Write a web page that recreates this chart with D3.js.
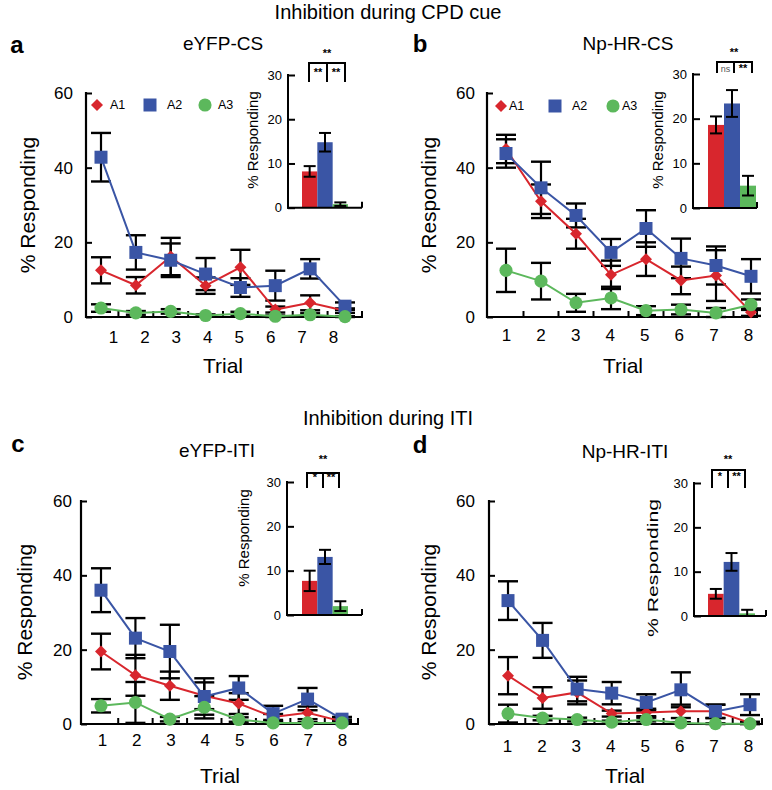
<!DOCTYPE html>
<html><head><meta charset="utf-8">
<script src="https://cdn.jsdelivr.net/npm/d3@7"></script>
<style>body{margin:0;background:#fff}svg{display:block}</style>
</head><body><svg id="c" width="772" height="790"></svg>
<script>
// ---------------- DATA ----------------
const trials = [1, 2, 3, 4, 5, 6, 7, 8];
const seriesNames = ["A1", "A2", "A3"];
const yTicksMain = [0, 20, 40, 60];
const yTicksInset = [0, 10, 20, 30];
const sectionTitles = ["Inhibition during CPD cue", "Inhibition during ITI"];
const panelTitles = ["eYFP-CS", "Np-HR-CS", "eYFP-ITI", "Np-HR-ITI"];
const panelLetters = ["a", "b", "c", "d"];

// panel a: eYFP-CS
const aA1 = [12.5, 8.5, 16.2, 8.4, 13.3, 2.0, 3.8, 1.7];
const aA1Err = [3.5, 2.2, 5.0, 2.2, 4.7, 0.8, 2.0, 0.6];
const aA2 = [42.8, 17.3, 15.2, 11.5, 7.9, 8.4, 12.9, 2.9];
const aA2Err = [6.5, 4.6, 4.5, 4.3, 2.5, 4.0, 2.6, 1.0];
const aA3 = [2.4, 1.1, 1.5, 0.4, 0.9, 0.2, 0.6, 0.1];
const aA3Err = [1.0, 0.5, 0.6, 0.3, 0.5, 0.2, 0.4, 0.1];
const aBar = [8.2, 14.8, 0.8];
const aBarErr = [1.2, 2.1, 0.4];
const aSig = ["**", "**", "**"];

// panel b: Np-HR-CS
const bA1 = [45.0, 31.0, 22.3, 11.3, 15.5, 9.8, 11.1, 1.3];
const bA1Err = [3.8, 4.5, 4.0, 3.8, 4.5, 3.7, 6.8, 1.0];
const bA2 = [43.8, 34.6, 27.2, 17.3, 23.7, 15.7, 13.8, 10.9];
const bA2Err = [3.8, 7.0, 3.2, 3.6, 4.9, 5.3, 5.1, 4.6];
const bA3 = [12.5, 9.6, 3.8, 5.1, 1.7, 2.0, 1.1, 3.3];
const bA3Err = [5.8, 4.9, 2.4, 3.0, 1.2, 1.3, 1.3, 1.4];
const bBar = [18.6, 23.4, 5.0];
const bBarErr = [1.9, 3.0, 2.2];
const bSig = ["**", "ns", "**"];

// panel c: eYFP-ITI
const cA1 = [19.5, 13.1, 10.3, 7.6, 5.5, 1.9, 3.0, 0.7];
const cA1Err = [4.8, 5.5, 3.8, 3.6, 2.8, 0.8, 1.7, 0.5];
const cA2 = [36.0, 23.1, 19.5, 7.4, 9.7, 2.8, 6.7, 1.3];
const cA2Err = [5.9, 5.4, 7.2, 4.9, 3.2, 2.1, 3.0, 0.6];
const cA3 = [4.9, 5.8, 1.3, 4.5, 1.2, 0.3, 0.3, 0.3];
const cA3Err = [1.8, 5.5, 0.6, 3.0, 0.6, 0.2, 0.2, 0.2];
const cBar = [7.7, 13.1, 2.0];
const cBarErr = [2.3, 1.6, 1.1];
const cSig = ["**", "*", "**"];

// panel d: Np-HR-ITI
const dA1 = [13.0, 7.0, 8.5, 2.8, 3.1, 3.4, 3.4, 0.3];
const dA1Err = [5.0, 2.9, 3.2, 0.8, 1.0, 1.8, 1.8, 0.3];
const dA2 = [33.2, 22.5, 9.4, 8.3, 5.8, 9.2, 3.4, 5.2];
const dA2Err = [5.2, 4.7, 3.3, 3.0, 2.2, 4.7, 1.8, 2.8];
const dA3 = [2.8, 1.6, 1.2, 0.5, 1.2, 0.3, 0.1, 0.1];
const dA3Err = [2.4, 0.6, 0.5, 0.4, 0.5, 0.2, 0.1, 0.1];
const dBar = [5.0, 12.2, 0.6];
const dBarErr = [1.1, 2.0, 0.8];
const dSig = ["**", "*", "**"];

// ---------------- STYLE / LAYOUT ----------------
const FONT = '"Liberation Sans", Arial, Helvetica, sans-serif';
const colors = ["#d8262d", "#3a55a5", "#5cb85c"];
const svg = d3.select("#c");

const layouts = [
  { letterXY: [17, 53], titleXY: [223, 50], axX: 86, y0: 317, yTop: 93, xEnd: 362, m: [101, 345], l: [113, 333], labPad: 14, yPad: 13,
    ylab: [27, 205], trial: [223, 373], inAx: 288, iy0: 207.7, iyTop: 75, iEnd: 362, b: [302, 348], ilab: [252, 140], ilabLen: null,
    br: { top: 63, bot: 82, xs: [309, 327, 345], topY: 57, inY: 76 }, legend: { y: 105, mx: [97, 150, 205], tx: [110, 167, 218] } },
  { letterXY: [420, 52], titleXY: [628, 50], axX: 487, y0: 317, yTop: 93, xEnd: 757, m: [506, 751], l: [506, 748], labPad: 12, yPad: 12,
    ylab: [428, 205], trial: [623, 373], inAx: 693, iy0: 208, iyTop: 74, iEnd: 757, b: [708, 756], ilab: [657, 140], ilabLen: null,
    br: { top: 62, bot: 73, xs: [717, 734, 752], topY: 56, inY: 72 }, legend: { y: 106, mx: [501, 555, 613], tx: [509, 572, 622] } },
  { letterXY: [18, 452], titleXY: [217, 457], axX: 81, y0: 724, yTop: 501, xEnd: 358, m: [101, 342], l: [102, 342], labPad: 10, yPad: 9,
    ylab: [24, 612], trial: [220, 783], inAx: 287, iy0: 615, iyTop: 482, iEnd: 362, b: [302, 348], ilab: [243, 538], ilabLen: null,
    br: { top: 473, bot: 488, xs: [307, 323, 339], topY: 463, inY: 481 }, legend: null },
  { letterXY: [420, 453], titleXY: [625, 458], axX: 489, y0: 724, yTop: 501, xEnd: 762, m: [508, 750], l: [507, 748], labPad: 16, yPad: 14,
    ylab: [428, 612], trial: [625, 783], inAx: 694, iy0: 616, iyTop: 483, iEnd: 766, b: [708, 755], ilab: [652, 568], ilabLen: 138,
    br: { top: 470, bot: 488, xs: [712, 728, 745], topY: 463, inY: 480 }, legend: null }
];

const panels = [
  { means: [aA1, aA2, aA3], errs: [aA1Err, aA2Err, aA3Err], bar: aBar, barErr: aBarErr, sig: aSig },
  { means: [bA1, bA2, bA3], errs: [bA1Err, bA2Err, bA3Err], bar: bBar, barErr: bBarErr, sig: bSig },
  { means: [cA1, cA2, cA3], errs: [cA1Err, cA2Err, cA3Err], bar: cBar, barErr: cBarErr, sig: cSig },
  { means: [dA1, dA2, dA3], errs: [dA1Err, dA2Err, dA3Err], bar: dBar, barErr: dBarErr, sig: dSig }
];

function marker(sel, i) {
  if (i === 0) return sel.append("path").attr("d", d3.symbol().type(d3.symbolSquare).size(72)()).attr("fill", colors[0]);
  if (i === 1) return sel.append("path").attr("d", d3.symbol().type(d3.symbolSquare).size(169)()).attr("fill", colors[1]);
  return sel.append("path").attr("d", d3.symbol().type(d3.symbolCircle).size(135)()).attr("fill", colors[2]);
}
function place(path, i, x, y) {
  path.attr("transform", `translate(${x},${y})` + (i === 0 ? " rotate(45)" : ""));
}

function styleAxisText(sel, size) {
  sel.selectAll("text").attr("font-size", size).attr("font-family", FONT).attr("fill", "#000");
}

function drawPanel(k) {
  const P = panels[k], L = layouts[k];
  const g = svg.append("g");
  const y = d3.scaleLinear().domain([0, 60]).range([L.y0, L.yTop]);
  const x = d3.scalePoint().domain(trials).range(L.m);
  const xl = d3.scalePoint().domain(trials).range(L.l);

  g.append("text").attr("x", L.letterXY[0]).attr("y", L.letterXY[1]).attr("text-anchor", "middle")
    .attr("font-family", FONT).attr("font-weight", "bold").attr("font-size", 24).text(panelLetters[k]);
  g.append("text").attr("x", L.titleXY[0]).attr("y", L.titleXY[1]).attr("text-anchor", "middle")
    .attr("font-family", FONT).attr("font-size", 19).text(panelTitles[k]);

  const ya = g.append("g").attr("transform", `translate(${L.axX},0)`)
    .call(d3.axisLeft(y).tickValues(yTicksMain).tickSize(-6).tickPadding(L.yPad));
  ya.select(".domain").remove();
  ya.selectAll("line").attr("stroke", "#000").attr("stroke-width", 2);
  styleAxisText(ya, 17);
  g.append("line").attr("x1", L.axX).attr("x2", L.axX).attr("y1", L.y0 + 1).attr("y2", L.yTop - 1)
    .attr("stroke", "#000").attr("stroke-width", 2.2);
  g.append("line").attr("x1", L.axX - 1).attr("x2", L.xEnd + 1).attr("y1", L.y0).attr("y2", L.y0)
    .attr("stroke", "#000").attr("stroke-width", 2.2);
  const mids = trials.slice(0, -1).map((t, i) => (x(t) + x(trials[i + 1])) / 2);
  g.selectAll(".xt").data(mids.concat([L.xEnd])).join("line")
    .attr("x1", d => d).attr("x2", d => d).attr("y1", L.y0).attr("y2", L.y0 - 6)
    .attr("stroke", "#000").attr("stroke-width", 2);
  const xa = g.append("g").attr("transform", `translate(0,${L.y0})`)
    .call(d3.axisBottom(xl).tickSize(0).tickPadding(L.labPad));
  xa.select(".domain").remove();
  styleAxisText(xa, 17);

  g.append("text").attr("transform", `translate(${L.ylab[0]},${L.ylab[1]}) rotate(-90)`)
    .attr("text-anchor", "middle").attr("dominant-baseline", "central")
    .attr("font-family", FONT).attr("font-size", 21).text("% Responding");
  g.append("text").attr("x", L.trial[0]).attr("y", L.trial[1]).attr("text-anchor", "middle")
    .attr("font-family", FONT).attr("font-size", 21).text("Trial");

  const cap = 10;
  P.means.forEach((ms, s) => {
    ms.forEach((m, i) => {
      const e = P.errs[s][i];
      const cx = x(trials[i]);
      const lo = Math.max(0, m - e), hi = m + e;
      g.append("line").attr("x1", cx).attr("x2", cx).attr("y1", y(lo)).attr("y2", y(hi)).attr("stroke", "#000").attr("stroke-width", 2.2);
      [lo, hi].forEach(v => g.append("line").attr("x1", cx - cap).attr("x2", cx + cap).attr("y1", y(v)).attr("y2", y(v))
        .attr("stroke", "#000").attr("stroke-width", 2.4));
    });
  });
  P.means.forEach((ms, s) => {
    const line = d3.line().x((d, i) => x(trials[i])).y(d => y(d));
    g.append("path").attr("d", line(ms)).attr("fill", "none").attr("stroke", colors[s]).attr("stroke-width", 2);
    ms.forEach((m, i) => place(marker(g, s), s, x(trials[i]), y(m)));
  });

  if (L.legend) {
    seriesNames.forEach((n, s) => {
      place(marker(g, s), s, L.legend.mx[s], L.legend.y);
      g.append("text").attr("x", L.legend.tx[s]).attr("y", L.legend.y).attr("dominant-baseline", "central")
        .attr("font-family", FONT).attr("font-size", 12.5).text(n);
    });
  }

  const yi = d3.scaleLinear().domain([0, 30]).range([L.iy0, L.iyTop]);
  const xb = d3.scaleBand().domain(seriesNames).range(L.b).padding(0);
  g.selectAll(".bar").data(P.bar).join("rect")
    .attr("x", (d, i) => xb(seriesNames[i])).attr("width", xb.bandwidth())
    .attr("y", d => yi(d)).attr("height", d => yi(0) - yi(d)).attr("fill", (d, i) => colors[i]);
  P.bar.forEach((m, i) => {
    const e = P.barErr[i], cx = xb(seriesNames[i]) + xb.bandwidth() / 2;
    const lo = Math.max(0, m - e), hi = m + e;
    g.append("line").attr("x1", cx).attr("x2", cx).attr("y1", yi(lo)).attr("y2", yi(hi)).attr("stroke", "#000").attr("stroke-width", 2);
    [lo, hi].forEach(v => g.append("line").attr("x1", cx - 6).attr("x2", cx + 6).attr("y1", yi(v)).attr("y2", yi(v))
      .attr("stroke", "#000").attr("stroke-width", 2));
  });
  const yia = g.append("g").attr("transform", `translate(${L.inAx},0)`)
    .call(d3.axisLeft(yi).tickValues(yTicksInset).tickSize(-7).tickPadding(6));
  yia.select(".domain").remove();
  yia.selectAll("line").attr("stroke", "#000").attr("stroke-width", 2);
  styleAxisText(yia, 13);
  g.append("line").attr("x1", L.inAx).attr("x2", L.inAx).attr("y1", L.iy0 + 1).attr("y2", L.iyTop - 1)
    .attr("stroke", "#000").attr("stroke-width", 2);
  g.append("line").attr("x1", L.inAx - 1).attr("x2", L.iEnd).attr("y1", L.iy0).attr("y2", L.iy0)
    .attr("stroke", "#000").attr("stroke-width", 2);
  g.append("line").attr("x1", L.iEnd).attr("x2", L.iEnd).attr("y1", L.iy0).attr("y2", L.iy0 - 6)
    .attr("stroke", "#000").attr("stroke-width", 2);
  const il = g.append("text").attr("transform", `translate(${L.ilab[0]},${L.ilab[1]}) rotate(-90)`)
    .attr("text-anchor", "middle").attr("dominant-baseline", "central")
    .attr("font-family", FONT).attr("font-size", 15).text("% Responding");
  if (L.ilabLen) il.attr("textLength", L.ilabLen).attr("lengthAdjust", "spacingAndGlyphs");

  const B = L.br;
  g.append("line").attr("x1", B.xs[0]).attr("x2", B.xs[2]).attr("y1", B.top).attr("y2", B.top).attr("stroke", "#000").attr("stroke-width", 2);
  B.xs.forEach(xx => g.append("line").attr("x1", xx).attr("x2", xx).attr("y1", B.top - 1).attr("y2", B.bot).attr("stroke", "#000").attr("stroke-width", 2));
  g.append("text").attr("x", B.xs[1]).attr("y", B.topY).attr("text-anchor", "middle")
    .attr("font-family", FONT).attr("font-weight", "bold").attr("font-size", 11).text(P.sig[0]);
  [P.sig[1], P.sig[2]].forEach((t, j) => {
    g.append("text").attr("x", (B.xs[j] + B.xs[j + 1]) / 2).attr("y", B.inY).attr("text-anchor", "middle")
      .attr("font-family", FONT).attr("font-weight", t === "ns" ? "normal" : "bold").attr("font-size", t === "ns" ? 9 : 11)
      .attr("fill", t === "ns" ? "#555" : "#000").text(t);
  });
}

svg.append("text").attr("x", 388).attr("y", 19).attr("text-anchor", "middle").attr("font-family", FONT).attr("font-size", 20).text(sectionTitles[0]);
svg.append("text").attr("x", 388).attr("y", 425).attr("text-anchor", "middle").attr("font-family", FONT).attr("font-size", 20).text(sectionTitles[1]);

[0, 1, 2, 3].forEach(drawPanel);
</script></body></html>
